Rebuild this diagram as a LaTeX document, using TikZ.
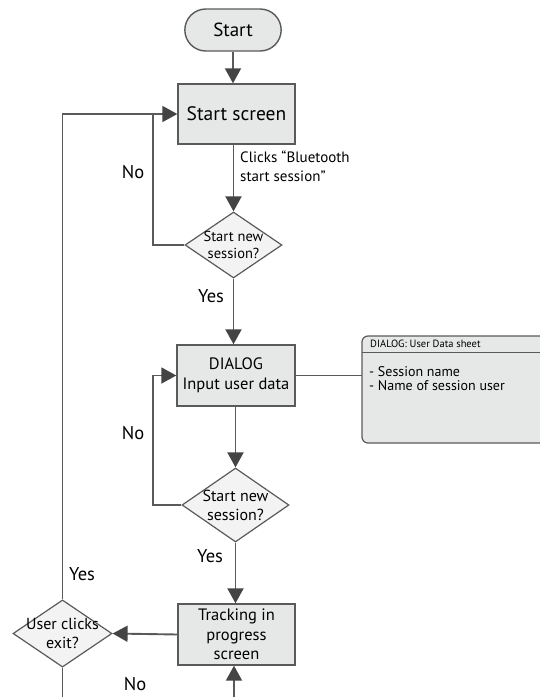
\documentclass[tikz,border=0pt]{standalone}
\usepackage{fontspec}
\setmainfont{PT Sans}
\usetikzlibrary{arrows.meta,shapes.geometric,shapes.misc}
\definecolor{linegray}{HTML}{5A5A5A}
\definecolor{tipgray}{HTML}{444444}
\definecolor{boxfill}{HTML}{E6E7E7}
\definecolor{diafill}{HTML}{F3F3F3}
\begin{document}
\begin{tikzpicture}[x=1pt,y=-1pt,
  flow/.style={draw=linegray, line width=1.9pt,
    -{Triangle[length=15pt,width=16pt,color=tipgray]}},
  plain/.style={draw=linegray, line width=1.9pt},
  procbox/.style={draw=linegray, line width=1.4pt, fill=boxfill,
    minimum width=117pt, minimum height=60pt, inner sep=1pt, align=center,
    font=\fontsize{16.5}{19.5}\selectfont},
  terminal/.style={rounded rectangle, draw=linegray, line width=1.4pt,
    fill=boxfill, minimum width=103pt, minimum height=42pt,
    font=\fontsize{19}{22}\selectfont},
  decision/.style={diamond, draw=linegray, line width=1.2pt, fill=diafill,
    inner sep=-4pt, align=center, shape aspect=1.45},
  answer/.style={font=\fontsize{18.5}{20}\selectfont, inner sep=1pt},
  note/.style={font=\fontsize{15}{19}\selectfont, align=left}]
\useasboundingbox (0,0) rectangle (540,697);

% main column
\node[terminal] (start) at (233,30) {Start};
\node[procbox, font=\fontsize{19.5}{22}\selectfont] (scr) at (236.5,114) {Start screen};
\node[decision, minimum width=97pt, minimum height=66pt,
      font=\fontsize{14.5}{17}\selectfont] (d1) at (233.5,245) {Start new\\session?};
\node[procbox, minimum width=118pt, minimum height=61pt] (dlg) at (236,375.5) {DIALOG\\Input user data};
\node[decision, minimum width=107pt, minimum height=74pt,
      font=\fontsize{16}{19}\selectfont] (d2) at (235.5,505) {Start new\\session?};
\node[procbox, minimum height=61pt] (trk) at (236.5,634.5) {Tracking in\\progress\\screen};
\node[decision, minimum width=99pt, minimum height=67pt,
      font=\fontsize{16}{19}\selectfont] (ex) at (62.5,633.5) {User clicks\\exit?};

% dialog sheet
\draw[draw=linegray, line width=1.2pt, fill=boxfill, rounded corners=6pt]
  (362,336) rectangle (546,443);
\node[inner sep=0pt, minimum width=184pt, minimum height=107pt] (sheet) at (454,389.5) {};
\draw[draw=linegray, line width=1pt] (362,352) -- (546,352);
\node[anchor=west, inner sep=0pt, font=\fontsize{10.5}{12}\selectfont] (sheettitle) at (370,344) {DIALOG: User Data sheet};
\node[anchor=north west, inner sep=0pt, align=left,
      font=\fontsize{14}{14}\selectfont] (sheetbody) at (369,366)
  {- Session name\\- Name of session user};

% free ends at the lower edge
\coordinate (exitout) at (62.5,697);
\coordinate (trkin) at (234,697);
\coordinate (nojoin) at (153,114);

% connectors
\draw[flow] (start.south) -- (start.south |- scr.north);
\draw[flow] (scr.south -| d1.north) -- (d1.north);
\node[note, anchor=north west, inner sep=0pt] (clicks) at (240,151) {Clicks “Bluetooth\\start session”};
\draw[plain] (d1.west) -| (nojoin);
\draw[flow] (d1.south) -- (d1.south |- dlg.north);
\draw[plain] (dlg.east) -- (dlg.east -| sheet.west);
\draw[flow] (dlg.south -| d2.north) -- (d2.north);
\draw[flow] (d2.west) -- (153,505) |- (dlg.west);
\draw[flow] (d2.south) -- (d2.south |- trk.north);
\draw[flow] (trk.west) -- (ex.east);
\draw[flow] (ex.north) |- (scr.west);
\draw[plain] (ex.south) -- (exitout);
\draw[flow] (trkin) -- (trkin |- trk.south);

% branch labels
\node[answer] (no1) at (133,172) {No};
\node[answer] (yes1) at (211,296) {Yes};
\node[answer] (no2) at (133,433) {No};
\node[answer] (yes2) at (210,556) {Yes};
\node[answer] (yes3) at (82,574) {Yes};
\node[answer] (no3) at (135,684.5) {No};
\end{tikzpicture}
\end{document}
